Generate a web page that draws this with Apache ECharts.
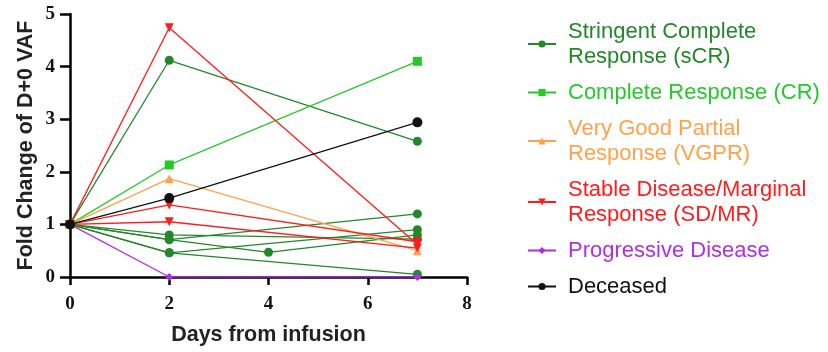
<!DOCTYPE html>
<html>
<head>
    <meta charset="utf-8">
    <title>Fold change of VAF</title>
    <script src="https://cdn.jsdelivr.net/npm/echarts@6/dist/echarts.min.js"></script>
    <style>
        html, body { margin: 0; padding: 0; background: #fff; }
        #chart { width: 828px; height: 352px; }
    </style>
</head>
<body>
<div id="chart"></div>
<script>
    // axis ticks
    var xTicks = [0, 2, 4, 6, 8];
    var yTicks = [0, 1, 2, 3, 4, 5];

    // each patient is a list of [day, fold change] points
    var sCR = [
        [[0, 1], [2, 4.12], [7, 2.58]],
        [[0, 1], [2, 0.71], [7, 1.2]],
        [[0, 1], [2, 0.80], [7, 0.72]],
        [[0, 1], [2, 0.71], [4, 0.47], [7, 0.8]],
        [[0, 1], [2, 0.46], [7, 0.9]],
        [[0, 1], [2, 0.46], [7, 0.05]]
    ];
    var CR = [
        [[0, 1], [2, 2.13], [7, 4.1]]
    ];
    var VGPR = [
        [[0, 1], [2, 1.87], [7, 0.5]]
    ];
    var SDMR = [
        [[0, 1], [2, 4.74], [7, 0.62]],
        [[0, 1], [2, 1.37], [7, 0.67]],
        [[0, 1], [2, 1.05], [7, 0.55]]
    ];
    var PD = [
        [[0, 1], [2, 0], [7, 0]]
    ];
    var deceased = [
        [[0, 1], [2, 1.5], [7, 2.94]]
    ];

    var groups = [
        { name: 'Stringent Complete Response (sCR)', label: 'Stringent Complete\nResponse (sCR)', color: '#23882a', symbol: 'circle', size: 9, rotate: 0, patients: sCR },
        { name: 'Complete Response (CR)', label: 'Complete Response (CR)', color: '#25c92a', symbol: 'rect', size: 9, rotate: 0, patients: CR },
        { name: 'Very Good Partial Response (VGPR)', label: 'Very Good Partial\nResponse (VGPR)', color: '#ffa24c', symbol: 'triangle', size: 9, rotate: 0, patients: VGPR },
        { name: 'Stable Disease/Marginal Response (SD/MR)', label: 'Stable Disease/Marginal\nResponse (SD/MR)', color: '#ff1c1c', symbol: 'triangle', size: 9, rotate: 180, patients: SDMR },
        { name: 'Progressive Disease', label: 'Progressive Disease', color: '#b02ee6', symbol: 'diamond', size: 8, rotate: 0, patients: PD },
        { name: 'Deceased', label: 'Deceased', color: '#111111', symbol: 'circle', size: 10, rotate: 0, patients: deceased }
    ];

    var series = [];
    var legendData = [];
    var labelOf = {};
    groups.forEach(function (g) {
        labelOf[g.name] = g.label;
        legendData.push({ name: g.name, textStyle: { color: g.color } });
        g.patients.forEach(function (p) {
            series.push({
                name: g.name,
                type: 'line',
                data: p,
                symbol: g.symbol,
                symbolSize: g.size,
                symbolRotate: g.rotate,
                itemStyle: { color: g.color },
                lineStyle: { color: g.color, width: 1.3 }
            });
        });
    });

    var axisFont = { fontFamily: 'Liberation Serif', fontWeight: 'bold', fontSize: 19, color: '#111' };
    var titleFont = { fontFamily: 'Liberation Sans', fontWeight: 'bold', fontSize: 21.5, color: '#222' };

    var chart = echarts.init(document.getElementById('chart'));
    chart.setOption({
        animation: false,
        grid: { left: 70, right: 361, top: 14, bottom: 75 },
        legend: {
            orient: 'vertical',
            left: 522,
            top: 14,
            itemWidth: 28,
            itemHeight: 9,
            itemGap: 11,
            data: legendData,
            formatter: function (name) { return labelOf[name]; },
            textStyle: { fontFamily: 'Liberation Sans', fontSize: 22, lineHeight: 25, padding: [0, 0, 0, 7] }
        },
        xAxis: {
            type: 'value',
            min: xTicks[0],
            max: xTicks[xTicks.length - 1],
            interval: 2,
            name: 'Days from infusion',
            nameLocation: 'middle',
            nameGap: 47,
            nameTextStyle: titleFont,
            splitLine: { show: false },
            axisLine: { onZero: false, lineStyle: { color: '#000', width: 2.5 } },
            axisTick: { length: 8, lineStyle: { color: '#000', width: 2.5 } },
            axisLabel: Object.assign({ margin: 18 }, axisFont)
        },
        yAxis: {
            type: 'value',
            min: yTicks[0],
            max: yTicks[yTicks.length - 1],
            interval: 1,
            name: 'Fold Change of D+0 VAF',
            nameLocation: 'middle',
            nameGap: 33,
            nameTextStyle: titleFont,
            splitLine: { show: false },
            axisLine: { show: true, lineStyle: { color: '#000', width: 2.5 } },
            axisTick: { show: true, length: 10, lineStyle: { color: '#000', width: 2.5 } },
            axisLabel: Object.assign({ margin: 15 }, axisFont)
        },
        series: series
    });
</script>
</body>
</html>
